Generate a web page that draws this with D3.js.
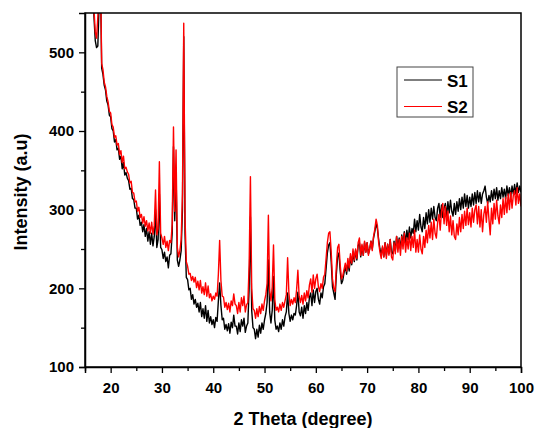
<!DOCTYPE html>
<html>
<head>
<meta charset="utf-8">
<script src="https://cdn.jsdelivr.net/npm/d3@7"></script>
<style>
  body { margin: 0; background: #fff; }
  svg { display: block; font-family: Arial, "Liberation Sans", sans-serif; }
</style>
</head>
<body>
<script>
// 2-theta grid: starts at 16.5°, step 0.25°
const thetaStart = 16.5;
const thetaStep = 0.25;
const seriesNames = ["S1", "S2"];
const seriesColors = ["#000000", "#ff0000"];
const xTicks = [20, 30, 40, 50, 60, 70, 80, 90, 100];
const yTicks = [100, 200, 300, 400, 500];

// S1 (black)
const s1 = [
  585, 545,
  515, 506, 508, 560,   // 17
  600, 480, 472, 458,   // 18
  452, 438, 433, 420,   // 19
  418, 403, 400, 386,   // 20
  389, 376, 378, 364,   // 21
  368, 352, 360, 344,   // 22
  347, 340, 337, 326,   // 23
  327, 314, 313, 302,   // 24
  302, 288, 293, 280,   // 25
  284, 272, 281, 266,   // 26
  276, 260, 272, 256,   // 27
  270, 254, 266, 300,   // 28
  252, 262, 320, 252,   // 29
  249, 238, 246, 234,   // 30
  240, 226, 242, 244,   // 31
  270, 380, 286, 350,   // 32
  236, 228, 236, 248,   // 33
  300, 520, 270, 214,   // 34
  211, 198, 200, 186,   // 35
  192, 180, 186, 176,   // 36
  181, 170, 182, 164,   // 37
  174, 162, 178, 158,   // 38
  172, 156, 164, 154,   // 39
  160, 150, 163, 158,   // 40
  184, 207, 178, 160,   // 41
  162, 148, 154, 146,   // 42
  155, 143, 157, 150,   // 43
  166, 152, 152, 142,   // 44
  156, 145, 160, 152,   // 45
  162, 144, 152, 156,   // 46
  200, 291, 172, 150,   // 47
  148, 136, 148, 138,   // 48
  153, 143, 156, 148,   // 49
  160, 168, 182, 236,   // 50
  170, 156, 172, 215,   // 51
  160, 148, 152, 145,   // 52
  156, 148, 160, 152,   // 53
  164, 170, 194, 168,   // 54
  158, 166, 160, 168,   // 55
  166, 178, 195, 170,   // 56
  165, 176, 162, 178,   // 57
  168, 182, 172, 188,   // 58
  194, 178, 198, 182,   // 59
  196, 200, 186, 180,   // 60
  194, 188, 202, 206,   // 61
  225, 245, 255, 258,   // 62
  234, 202, 194, 186,   // 63
  218, 240, 245, 222,   // 64
  206, 210, 220, 228,   // 65
  218, 234, 222, 240,   // 66
  230, 246, 234, 248,   // 67
  236, 254, 258, 240,   // 68
  254, 242, 258, 246,   // 69
  258, 244, 250, 260,   // 70
  250, 264, 272, 282,   // 71
  276, 262, 250, 244,   // 72
  252, 240, 258, 242,   // 73
  256, 244, 262, 246,   // 74
  244, 260, 248, 266,   // 75
  252, 264, 250, 268,   // 76
  256, 272, 258, 274,   // 77
  262, 278, 264, 276,   // 78
  270, 288, 272, 286,   // 79
  274, 294, 278, 272,   // 80
  290, 276, 296, 282,   // 81
  300, 284, 302, 288,   // 82
  304, 290, 286, 302,   // 83
  308, 290, 306, 290,   // 84
  302, 308, 292, 310,   // 85
  296, 312, 298, 292,   // 86
  308, 294, 310, 298,   // 87
  314, 300, 316, 302,   // 88
  320, 304, 318, 302,   // 89
  316, 304, 320, 306,   // 90
  322, 308, 324, 310,   // 91
  322, 308, 320, 324,   // 92
  330, 316, 308, 318,   // 93
  310, 324, 312, 326,   // 94
  314, 328, 312, 324,   // 95
  314, 328, 316, 326,   // 96
  314, 330, 318, 328,   // 97
  316, 330, 320, 332,   // 98
  320, 334, 322, 330,   // 99
  322                   // 100
];

// S2 (red)
const s2 = [
  590, 555,
  526, 518, 545, 585,   // 17
  610, 486, 478, 462,   // 18
  456, 444, 437, 425,   // 19
  423, 408, 405, 392,   // 20
  394, 382, 384, 370,   // 21
  375, 360, 368, 352,   // 22
  354, 348, 345, 334,   // 23
  336, 322, 321, 310,   // 24
  311, 298, 303, 290,   // 25
  294, 283, 291, 279,   // 26
  286, 273, 283, 270,   // 27
  284, 269, 280, 325,   // 28
  268, 276, 361, 270,   // 29
  264, 256, 266, 252,   // 30
  260, 248, 261, 258,   // 31
  282, 405, 298, 376,   // 32
  252, 240, 248, 262,   // 33
  320, 537, 290, 234,   // 34
  228, 218, 219, 210,   // 35
  215, 208, 214, 201,   // 36
  209, 198, 210, 194,   // 37
  202, 192, 207, 190,   // 38
  203, 188, 193, 184,   // 39
  190, 186, 194, 190,   // 40
  218, 261, 210, 190,   // 41
  189, 176, 182, 173,   // 42
  181, 170, 184, 178,   // 43
  193, 180, 178, 168,   // 44
  182, 170, 188, 178,   // 45
  190, 170, 179, 182,   // 46
  230, 342, 200, 174,   // 47
  172, 162, 174, 164,   // 48
  177, 168, 180, 172,   // 49
  184, 192, 206, 293,   // 50
  198, 184, 202, 255,   // 51
  186, 172, 176, 170,   // 52
  180, 172, 182, 176,   // 53
  184, 192, 239, 194,   // 54
  178, 186, 180, 188,   // 55
  182, 198, 223, 190,   // 56
  182, 191, 180, 194,   // 57
  184, 197, 188, 204,   // 58
  212, 195, 217, 200,   // 59
  212, 218, 202, 196,   // 60
  206, 200, 214, 218,   // 61
  238, 258, 270, 272,   // 62
  246, 212, 200, 196,   // 63
  228, 252, 256, 230,   // 64
  212, 216, 224, 232,   // 65
  222, 238, 226, 244,   // 66
  232, 250, 236, 250,   // 67
  238, 258, 264, 242,   // 68
  256, 242, 260, 246,   // 69
  258, 242, 250, 260,   // 70
  248, 266, 275, 288,   // 71
  280, 258, 246, 238,   // 72
  254, 240, 258, 238,   // 73
  256, 242, 262, 240,   // 74
  236, 258, 244, 266,   // 75
  246, 262, 242, 266,   // 76
  250, 270, 246, 264,   // 77
  250, 270, 248, 266,   // 78
  252, 274, 246, 262,   // 79
  246, 268, 250, 244,   // 80
  266, 252, 274, 258,   // 81
  280, 264, 284, 262,   // 82
  288, 270, 264, 284,   // 83
  294, 274, 298, 308,   // 84
  282, 304, 280, 298,   // 85
  272, 292, 268, 286,   // 86
  266, 262, 282, 268,   // 87
  290, 272, 294, 276,   // 88
  298, 280, 302, 281,   // 89
  296, 278, 302, 284,   // 90
  300, 306, 282, 304,   // 91
  278, 300, 272, 294,   // 92
  304, 284, 310, 288,   // 93
  268, 302, 282, 308,   // 94
  288, 312, 292, 282,   // 95
  306, 290, 314, 294,   // 96
  316, 296, 320, 300,   // 97
  322, 302, 318, 324,   // 98
  306, 328, 308, 320,   // 99
  304                   // 100
];

const W = 536, H = 428;
const m = { left: 85, top: 13, right: 15, bottom: 61 };
const pw = W - m.left - m.right;   // 436
const ph = H - m.top - m.bottom;   // 354

const svg = d3.select("body").append("svg").attr("width", W).attr("height", H);

const x = d3.scaleLinear().domain([15, 100]).range([m.left, m.left + pw]);
const y = d3.scaleLinear().domain([100, 550]).range([m.top + ph, m.top]);

svg.append("defs").append("clipPath").attr("id", "clip")
  .append("rect").attr("x", m.left).attr("y", m.top).attr("width", pw).attr("height", ph);

const toPts = arr => arr.map((v, i) => [thetaStart + i * thetaStep, v]);
const line = d3.line().x(d => x(d[0])).y(d => y(d[1]));

const g = svg.append("g").attr("clip-path", "url(#clip)");
[s1, s2].forEach((arr, k) => {
  g.append("path").datum(toPts(arr))
    .attr("fill", "none").attr("stroke", seriesColors[k])
    .attr("stroke-width", 1.4).attr("stroke-linejoin", "round")
    .attr("d", line);
});

// Frame
svg.append("rect").attr("x", m.left).attr("y", m.top).attr("width", pw).attr("height", ph)
  .attr("fill", "none").attr("stroke", "#000").attr("stroke-width", 1.5);

// X axis
svg.append("g").attr("transform", `translate(0,${m.top + ph})`)
  .call(d3.axisBottom(x).tickValues(xTicks).tickSize(6).tickPadding(9).tickFormat(d3.format("d")));
svg.append("g").attr("transform", `translate(0,${m.top + ph})`)
  .call(d3.axisBottom(x).tickValues(d3.range(15, 100, 10)).tickSize(4).tickFormat(""))
  .call(a => a.select(".domain").remove());

// Y axis
svg.append("g").attr("transform", `translate(${m.left},0)`)
  .call(d3.axisLeft(y).tickValues(yTicks).tickSize(6).tickPadding(5).tickFormat(d3.format("d")));
svg.append("g").attr("transform", `translate(${m.left},0)`)
  .call(d3.axisLeft(y).tickValues(d3.range(150, 550, 100)).tickSize(4).tickFormat(""))
  .call(a => a.select(".domain").remove());

svg.selectAll(".domain").attr("stroke", "#000").attr("stroke-width", 1.5);
svg.selectAll(".tick line").attr("stroke", "#000").attr("stroke-width", 1.3);
svg.selectAll(".tick text").attr("font-size", 15).attr("font-weight", "bold")
  .attr("font-family", "Arial, 'Liberation Sans', sans-serif").attr("fill", "#000");

// Axis titles
svg.append("text").attr("x", m.left + pw / 2).attr("y", 425)
  .attr("text-anchor", "middle").attr("font-size", 18).attr("font-weight", "bold")
  .text("2 Theta (degree)");
svg.append("text").attr("transform", `translate(27,${m.top + ph / 2 + 2}) rotate(-90)`)
  .attr("text-anchor", "middle").attr("font-size", 18).attr("font-weight", "bold")
  .text("Intensity (a.u)");

// Legend
const lg = svg.append("g");
lg.append("rect").attr("x", 397).attr("y", 67).attr("width", 76).attr("height", 50)
  .attr("fill", "#fff").attr("stroke", "#444").attr("stroke-width", 1);
seriesNames.forEach((name, i) => {
  const yy = 80 + i * 26.5;
  lg.append("line").attr("x1", 404).attr("x2", 442).attr("y1", yy).attr("y2", yy)
    .attr("stroke", seriesColors[i]).attr("stroke-width", 1.2);
  lg.append("text").attr("x", 447).attr("y", yy + 6.5)
    .attr("font-size", 17).attr("font-weight", "bold").text(name);
});
</script>
</body>
</html>
